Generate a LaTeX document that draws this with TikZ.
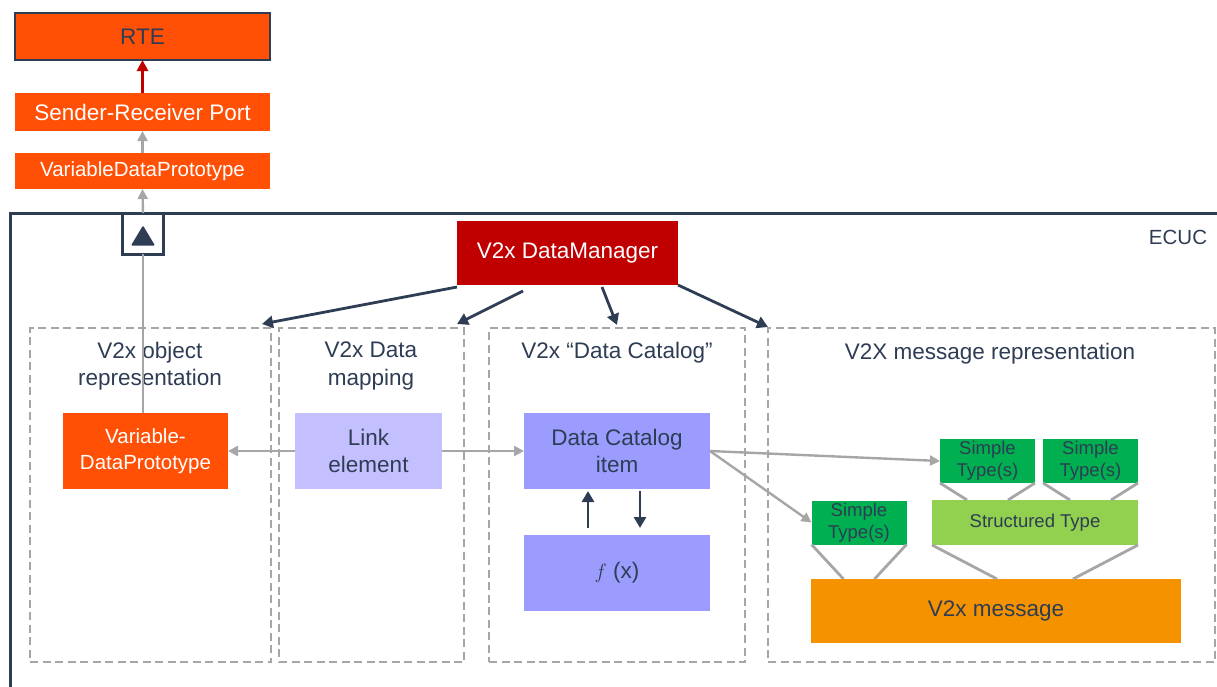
\documentclass[tikz,border=0pt]{standalone}
\usepackage{fontspec}
\setmainfont{Liberation Sans}
\usetikzlibrary{arrows.meta,calc}
\definecolor{navy}{RGB}{46,61,84}
\definecolor{arorange}{RGB}{255,80,5}
\definecolor{dmred}{RGB}{192,0,0}
\definecolor{lanegrey}{RGB}{166,166,166}
\definecolor{linkblue}{RGB}{196,192,255}
\definecolor{catblue}{RGB}{156,156,255}
\definecolor{simplegreen}{RGB}{0,176,80}
\definecolor{structgreen}{RGB}{146,208,80}
\definecolor{msgorange}{RGB}{245,146,0}
\newcommand{\fsbig}{\fontsize{22.5}{27.5}\selectfont}
\newcommand{\fsmid}{\fontsize{20.5}{26}\selectfont}
\newcommand{\fslow}{\fontsize{18.5}{22}\selectfont}

\begin{document}
\begin{tikzpicture}[x=1pt,y=-1pt,
  box/.style={inner sep=0pt, outer sep=0pt, align=center},
  arbox/.style={box, fill=arorange, text=white},
  dmbox/.style={box, fill=dmred, text=white, font=\fsbig},
  linkbox/.style={box, fill=linkblue, text=navy, font=\fsbig},
  catbox/.style={box, fill=catblue, text=navy, font=\fsbig},
  simplebox/.style={box, fill=simplegreen, text=navy, font=\fslow, minimum width=95pt, minimum height=44pt},
  structbox/.style={box, fill=structgreen, text=navy, font=\fslow},
  msgbox/.style={box, fill=msgorange, text=navy, font=\fsbig},
  lane/.style={box, draw=lanegrey, line width=2.8pt, dash pattern=on 8pt off 4.5pt, minimum height=334pt},
  lanetitle/.style={align=center, text=navy, font=\fsbig},
  navyarrow/.style={navy, line width=2.8pt, -{Triangle[length=11pt,width=12pt]}},
  greyarrow/.style={lanegrey, line width=2.4pt, -{Triangle[length=10pt,width=10pt]}},
  redarrow/.style={dmred, line width=2.8pt, -{Triangle[length=11pt,width=11pt]}},
  joint/.style={lanegrey, line width=2.8pt}]
  \useasboundingbox (0,0) rectangle (1217,686);

  % AUTOSAR side
  \node[arbox, draw=navy, line width=1.5pt, text=navy, font=\fsbig, minimum width=255pt, minimum height=47pt] (rte) at (142.5,36.5) {RTE};
  \node[arbox, font=\fsbig, minimum width=255pt, minimum height=38pt] (srp) at (142.5,112) {Sender-Receiver Port};
  \node[arbox, font=\fsmid, minimum width=255pt, minimum height=36pt] (vdp) at (142.5,171) {VariableDataPrototype};

  % ECUC frame
  \draw[navy, line width=3pt] (10,692) -- (10,213) -- (1222,213);
  \node[text=navy, font=\fsmid] (ecuc) at (1178,237) {ECUC};
  \node[box, draw=navy, line width=3pt, fill=white, minimum size=41pt] (port) at (143,233.5) {};
  \fill[navy, rounded corners=1pt] ($(port)+(-12,12)$) -- ($(port)+(0,-8)$) -- ($(port)+(12,12)$) -- cycle;

  \node[dmbox, minimum width=221pt, minimum height=64pt] (dm) at (567.5,253) {V2x DataManager};

  % lanes
  \node[lane, minimum width=241pt] (objrep) at (150.5,495) {};
  \node[lane, minimum width=185pt] (datamap) at (371.5,495) {};
  \node[lane, minimum width=256pt] (catalog) at (617,495) {};
  \node[lane, minimum width=447pt] (msgrep) at (991.5,495) {};
  \node[lanetitle] (objreptxt) at (150,366) {V2x object\\representation};
  \node[lanetitle] (datamaptxt) at (371,366) {V2x Data\\mapping};
  \node[lanetitle] (catalogtxt) at (617,353) {V2x “Data Catalog”};
  \node[lanetitle] (msgreptxt) at (990,354) {V2X message representation};

  % elements
  \node[arbox, font=\fsmid, minimum width=165pt, minimum height=76pt] (vdpobj) at (145.5,451) {Variable-\\DataPrototype};
  \node[linkbox, minimum width=147pt, minimum height=76pt] (link) at (368.5,451) {Link\\element};
  \node[catbox, minimum width=186pt, minimum height=76pt] (dci) at (617,451) {Data Catalog\\item};
  \node[catbox, minimum width=186pt, minimum height=76pt] (fx) at (617,573) {$f$ (x)};

  \node[simplebox] (st1) at (987.5,461) {Simple\\Type(s)};
  \node[simplebox] (st2) at (1090.5,461) {Simple\\Type(s)};
  \node[simplebox] (st3) at (859,522.5) {Simple\\Type(s)};
  \node[structbox, minimum width=206pt, minimum height=45pt] (struct) at (1035,522.5) {Structured Type};
  \node[msgbox, minimum width=370pt, minimum height=64pt] (msg) at (996,611) {V2x message};

  % connectors
  \draw[redarrow] (srp.north) -- (rte.south);
  \draw[greyarrow] (vdp.north) -- (srp.south);
  \draw[greyarrow] (port.north) -- (vdp.south);
  \draw[lanegrey, line width=2.4pt] (port.south) -- (port.south |- vdpobj.north);

  \draw[navyarrow] ([yshift=-2pt]dm.south west) -- ([xshift=-9pt,yshift=4pt]objrep.north east);
  \draw[navyarrow] ([xshift=66pt,yshift=-6pt]dm.south west) -- ([xshift=-7pt,yshift=4pt]datamap.north east);
  \draw[navyarrow] ([xshift=145pt,yshift=-2pt]dm.south west) -- ([yshift=3pt]catalog.north);
  \draw[navyarrow] (dm.south east) -- ([yshift=1pt]msgrep.north west);

  \draw[greyarrow] (link.west) -- (vdpobj.east);
  \draw[greyarrow] (link.east) -- (dci.west);
  \draw[greyarrow] (dci.east) -- (st1.west);
  \draw[greyarrow] (dci.east) -- (st3.west);

  \draw[navyarrow] ([xshift=-29pt,yshift=7pt]fx.north) -- ([xshift=-29pt,yshift=-2pt]dci.south);
  \draw[navyarrow] ([xshift=23pt,yshift=-2pt]dci.south) -- ([xshift=23pt,yshift=7pt]fx.north);

  \foreach \b/\t/\d in {st1/struct/27, st2/struct/27, st3/msg/32, struct/msg/65}{
    \draw[joint] (\b.south west) -- ([xshift=\d pt]\b.south west |- \t.north);
    \draw[joint] (\b.south east) -- ([xshift=-\d pt]\b.south east |- \t.north);
  }
\end{tikzpicture}
\end{document}
